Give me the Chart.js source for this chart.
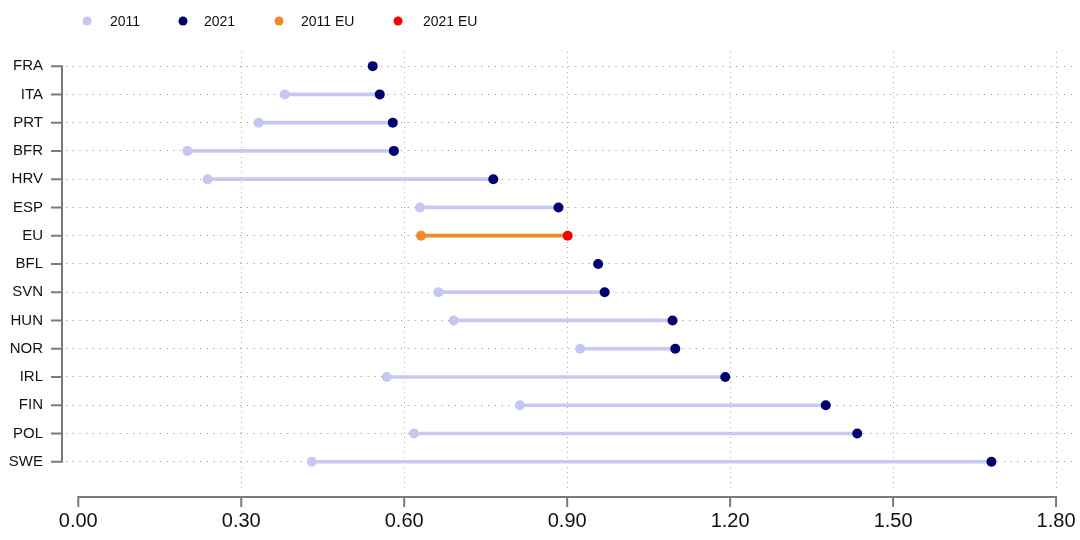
<!DOCTYPE html>
<html>
<head>
<meta charset="utf-8">
<script src="https://cdn.jsdelivr.net/npm/chart.js@4.4.1/dist/chart.umd.min.js"></script>
<style>
html,body{margin:0;padding:0;background:#fff;}
#wrap{width:1080px;height:540px;position:relative;}
</style>
</head>
<body>
<div id="wrap"><canvas id="c" width="1080" height="540"></canvas></div>
<script>
// ---- data ----
const categories = ['FRA','ITA','PRT','BFR','HRV','ESP','EU','BFL','SVN','HUN','NOR','IRL','FIN','POL','SWE'];
const values2011 = [null,0.380,0.332,0.201,0.238,0.629,0.631,null,0.663,0.691,0.924,0.568,0.813,0.618,0.430];
const values2021 = [0.542,0.555,0.579,0.581,0.764,0.884,0.901,0.957,0.969,1.094,1.099,1.191,1.376,1.434,1.681];
const xTicks = [0,0.3,0.6,0.9,1.2,1.5,1.8];
const seriesNames = ['2011','2021','2011 EU','2021 EU'];
const euLabel = 'EU';

const COL11 = '#c6c6f2', COL21 = '#00006e', COLEU11 = '#f0892a', COLEU21 = '#ff0000';
const LINE = '#c8c8f3', LINEEU = '#ee8a2c';
const FONT = '"Liberation Sans", Arial, sans-serif';

const euIdx = categories.indexOf(euLabel);
const pts = (arr, eu) => arr.map((v,i)=>({x:v,y:i})).filter(p => p.x!=null && ((p.y===euIdx)===eu));
const bars = categories.map((c,i)=>({y:i, x:[values2011[i], values2021[i]]})).filter(d=>d.x[0]!=null && d.x[1]!=null);

const axisPlugin = {
  id:'axes',
  afterDraw(chart){
    const ctx = chart.ctx, xs = chart.scales.x, ys = chart.scales.y;
    ctx.save();
    ctx.strokeStyle = '#7a7a7a'; ctx.lineWidth = 2; ctx.lineCap='butt';
    // x axis
    const ay = 497;
    const x0 = xs.getPixelForValue(xTicks[0]), x1 = xs.getPixelForValue(xTicks[xTicks.length-1]);
    ctx.beginPath(); ctx.moveTo(x0, ay); ctx.lineTo(x1, ay);
    xTicks.forEach(t=>{ const px = xs.getPixelForValue(t); ctx.moveTo(px, ay-1); ctx.lineTo(px, ay+10); });
    ctx.stroke();
    // y axis
    const axx = 62;
    const y0 = ys.getPixelForValue(0), y1 = ys.getPixelForValue(categories.length-1);
    ctx.beginPath(); ctx.moveTo(axx, y0); ctx.lineTo(axx, y1);
    categories.forEach((c,i)=>{ const py = ys.getPixelForValue(i); ctx.moveTo(axx+1, py); ctx.lineTo(axx-11, py); });
    ctx.stroke();
    // legend
    const items = [[87,110,COL11],[183,204,COL21],[279,301,COLEU11],[398,423,COLEU21]];
    ctx.font = '14px ' + FONT; ctx.textBaseline='middle'; ctx.textAlign='left';
    items.forEach((it,k)=>{
      ctx.beginPath(); ctx.fillStyle = it[2]; ctx.arc(it[0], 21, 4.5, 0, Math.PI*2); ctx.fill();
      ctx.fillStyle = '#111'; ctx.fillText(seriesNames[k], it[1], 22);
    });
    ctx.restore();
  }
};

new Chart(document.getElementById('c'), {
  type: 'bar',
  data: {
    datasets: [
      {type:'scatter', label:seriesNames[0], data: pts(values2011,false), backgroundColor:COL11, pointRadius:5, pointBorderWidth:0, order:1},
      {type:'scatter', label:seriesNames[1], data: pts(values2021,false), backgroundColor:COL21, pointRadius:5, pointBorderWidth:0, order:0},
      {type:'scatter', label:seriesNames[2], data: pts(values2011,true), backgroundColor:COLEU11, pointRadius:5, pointBorderWidth:0, order:1},
      {type:'scatter', label:seriesNames[3], data: pts(values2021,true), backgroundColor:COLEU21, pointRadius:5, pointBorderWidth:0, order:0},
      {type:'bar', indexAxis:'y', label:'range', data: bars, barThickness:3, borderSkipped:false, borderWidth:0,
       backgroundColor: ctx => (ctx.raw && ctx.raw.y===euIdx) ? LINEEU : LINE, order:5}
    ]
  },
  options: {
    responsive:false, animation:false,
    layout:{padding:{top:52, right:6, left:0, bottom:0}},
    plugins:{legend:{display:false}, tooltip:{enabled:false}},
    scales:{
      x:{type:'linear', min:-0.0226, max:1.833, offset:false,
        afterBuildTicks: s => { s.ticks = xTicks.map(v=>({value:v})); },
        afterFit: s => { s.height = 50; s.paddingLeft = 0; s.paddingRight = 0; s.paddingTop = 0; s.paddingBottom = 0; },
        grid:{offset:false, drawTicks:false, lineWidth:1, color: c => (c.tick && c.tick.value===0) ? 'rgba(0,0,0,0)' : '#ababab'},
        border:{display:false, dash:[1,4]},
        ticks:{padding:19, color:'#111', font:{family:FONT, size:20}, callback: v => Number(v).toFixed(2), maxRotation:0, autoSkip:false}
      },
      y:{type:'linear', reverse:true, min:-0.5, max:15.0, offset:false,
        afterBuildTicks: s => { s.ticks = categories.map((c,i)=>({value:i})); },
        afterFit: s => { s.width = 66; s.paddingTop = 0; s.paddingBottom = 0; s.paddingLeft = 0; s.paddingRight = 0; },
        grid:{offset:false, drawTicks:false, lineWidth:1, color:'#9a9a9a'},
        border:{display:false, dash:[1.2,5.5]},
        ticks:{padding:23, color:'#111', font:{family:FONT, size:15}, callback: v => categories[v] ?? '', autoSkip:false}
      }
    }
  },
  plugins:[axisPlugin]
});
</script>
</body>
</html>
